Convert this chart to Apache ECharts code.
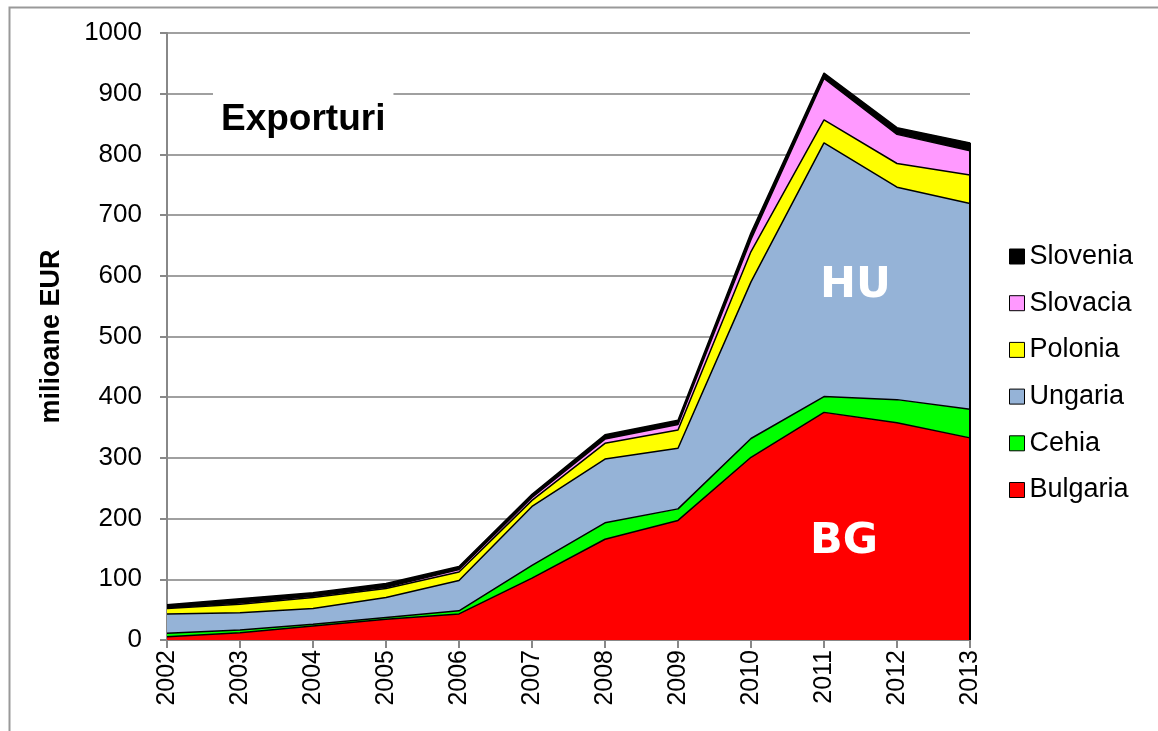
<!DOCTYPE html>
<html>
<head>
<meta charset="utf-8">
<script src="https://cdn.jsdelivr.net/npm/echarts@6/dist/echarts.min.js"></script>
<style>
    html, body { margin: 0; padding: 0; background: #fff; }
    #chart { width: 1158px; height: 731px; }
</style>
</head>
<body>
<div id="chart"></div>
<script>
    const years = ['2002', '2003', '2004', '2005', '2006', '2007', '2008', '2009', '2010', '2011', '2012', '2013'];
    const bulgaria = [5.5, 12, 23, 34, 43, 102, 166, 197, 301, 375, 358, 333];
    const cehia = [5.5, 4.5, 3, 3, 5, 21, 27, 19, 31, 26, 38, 47];
    const ungaria = [32, 28.5, 26, 33, 50, 97, 105, 100, 258, 418, 350, 339];
    const polonia = [9, 14, 18, 15, 14, 10, 26, 30, 50, 38, 39, 47];
    const slovacia = [1, 2, 2, 2, 4, 5, 7, 9, 20, 68, 48, 40];
    const slovenia = [5, 7, 6, 6, 5, 5, 7, 7, 11, 9, 11, 13];
    const yTicks = [0, 100, 200, 300, 400, 500, 600, 700, 800, 900, 1000];

    const chart = echarts.init(document.getElementById('chart'));
    const font = 'Liberation Sans, Arial, sans-serif';

    const mkSeries = (name, data, color) => ({
        name: name,
        type: 'line',
        stack: 'total',
        data: data,
        symbol: 'none',
        smooth: false,
        itemStyle: { color: color, borderColor: '#000', borderWidth: 1 },
        lineStyle: { color: '#000', width: 1.5 },
        areaStyle: { color: color, opacity: 1 },
        emphasis: { disabled: true },
    });

    const totals = years.map((y, i) => bulgaria[i] + cehia[i] + ungaria[i] + polonia[i] + slovacia[i] + slovenia[i]);
    const last = years.length - 1;

    const series = [
        mkSeries('Bulgaria', bulgaria, '#ff0000'),
        mkSeries('Cehia', cehia, '#00ff00'),
        mkSeries('Ungaria', ungaria, '#95b3d7'),
        mkSeries('Polonia', polonia, '#ffff00'),
        mkSeries('Slovacia', slovacia, '#ff99ff'),
        mkSeries('Slovenia', slovenia, '#000000'),
    ];
    // right edge of the stacked area
    series[5].markLine = {
        symbol: 'none',
        silent: true,
        label: { show: false },
        lineStyle: { color: '#000', width: 2, type: 'solid' },
        data: [[{ coord: [years[last], 0] }, { coord: [years[last], totals[last]] }]],
    };

    const option = {
        animation: false,
        backgroundColor: '#fff',
        title: {
            text: 'Exporturi',
            left: 213,
            top: 91,
            backgroundColor: '#fff',
            padding: [10, 8, 8, 8],
            textStyle: { fontFamily: font, fontWeight: 'bold', fontSize: 37, color: '#000' },
        },
        legend: {
            orient: 'vertical',
            left: 1004,
            top: 238,
            itemWidth: 15,
            itemHeight: 15,
            itemGap: 19.7,
            icon: 'rect',
            data: ['Slovenia', 'Slovacia', 'Polonia', 'Ungaria', 'Cehia', 'Bulgaria'],
            itemStyle: { borderColor: '#000', borderWidth: 1 },
            textStyle: { fontFamily: font, fontSize: 27, color: '#000', padding: [0, 0, 0, 0] },
        },
        grid: { left: 167, right: 188, top: 33, bottom: 91, containLabel: false },
        xAxis: {
            type: 'category',
            data: years,
            boundaryGap: false,
            axisLine: { lineStyle: { color: '#888', width: 2 } },
            axisTick: { show: true, alignWithLabel: true, length: 8, lineStyle: { color: '#888', width: 2 } },
            axisLabel: { rotate: 90, fontFamily: font, fontSize: 25, color: '#000', margin: 10 },
            splitLine: { show: false },
        },
        yAxis: {
            type: 'value',
            min: yTicks[0],
            max: yTicks[yTicks.length - 1],
            interval: 100,
            name: 'milioane EUR',
            nameLocation: 'middle',
            nameGap: 102,
            nameTextStyle: { fontFamily: font, fontWeight: 'bold', fontSize: 27, color: '#000' },
            axisLine: { show: true, lineStyle: { color: '#888', width: 2 } },
            axisTick: { show: true, length: 7, lineStyle: { color: '#888', width: 2 } },
            axisLabel: { fontFamily: font, fontSize: 26, color: '#000', margin: 25, formatter: (v) => String(v) },
            splitLine: { lineStyle: { color: '#a0a0a0', width: 2 } },
        },
        graphic: [
            {
                type: 'rect',
                left: 7, top: 5,
                shape: { width: 1300, height: 900 },
                style: { fill: 'none', stroke: '#999', lineWidth: 2 },
                silent: true, z: -10,
            },
            {
                type: 'text',
                left: 820, top: 264,
                style: { text: 'HU', fill: '#fff', font: 'bold 43px "DejaVu Sans", "Open Sans", sans-serif' },
                z: 100,
            },
            {
                type: 'text',
                left: 810, top: 520,
                style: { text: 'BG', fill: '#fff', font: 'bold 43px "DejaVu Sans", "Open Sans", sans-serif' },
                z: 100,
            },
        ],
        series: series,
    };

    chart.setOption(option);
</script>
</body>
</html>
